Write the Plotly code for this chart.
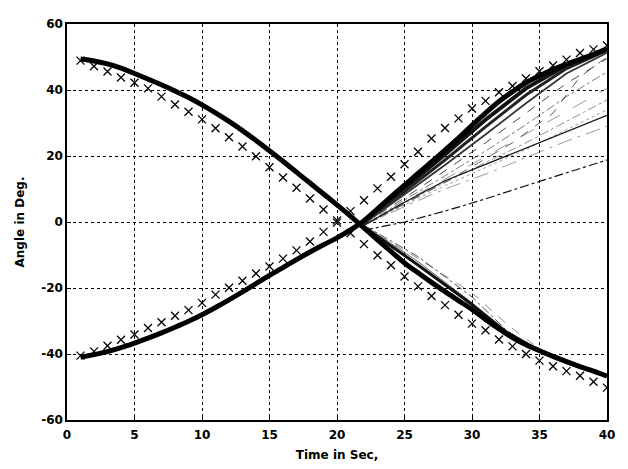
import plotly.graph_objects as go

# ---------------- data ----------------
t_markers = list(range(1, 41))
desc_markers = [48.9, 47.2, 45.6, 43.8, 42.2, 40.5, 38.0, 35.6, 33.4, 31.1,
                28.4, 25.7, 22.9, 19.9, 16.6, 13.5, 10.4, 7.1, 3.8, 0.5,
                -3.4, -6.7, -10.1, -13.1, -16.5, -19.5, -22.4, -25.2, -28.1, -30.8,
                -32.8, -35.6, -37.7, -40.0, -42.0, -43.7, -45.2, -46.6, -48.4, -50.2]
asc_markers = [-40.5, -39.2, -37.5, -35.7, -34.1, -32.1, -30.4, -28.4, -26.7, -24.5,
               -22.0, -19.9, -17.8, -15.6, -13.5, -11.1, -8.6, -5.9, -3.0, -0.2,
               3.3, 6.6, 10.2, 13.7, 17.5, 21.3, 25.3, 28.5, 31.4, 34.4,
               36.7, 39.3, 41.2, 43.5, 45.7, 47.4, 49.2, 51.2, 52.3, 53.5]

t_line = list(range(1, 41))
desc_line = [49.4, 48.8, 47.9, 46.6, 45.0, 43.3, 41.6, 39.7, 37.7, 35.5,
             33.1, 30.5, 27.7, 24.7, 21.6, 18.4, 15.1, 11.8, 8.5, 5.2,
             1.8, -1.8, -5.4, -8.9, -12.4, -15.4, -18.3, -21.1, -23.8, -26.5,
             -29.5, -32.4, -35.0, -37.2, -39.0, -40.7, -42.3, -43.8, -45.2, -46.7]
asc_line = [-41.0, -40.2, -39.3, -38.1, -36.7, -35.2, -33.6, -31.9, -30.1, -28.1,
            -25.9, -23.6, -21.2, -18.7, -16.2, -13.8, -11.4, -9.1, -6.9, -4.8,
            -2.4, 0.4, 4.0, 7.6, 11.2, 14.7, 18.2, 21.8, 25.4, 29.3,
            33.0, 36.5, 39.5, 42.2, 44.3, 46.2, 47.8, 49.3, 50.8, 52.5]

# diverging trajectories after the crossing (knots)
t_fan = [22, 25, 28, 31, 34, 37, 40]
asc_fan = {
    "A1": [0.0, 10.2, 20.5, 31.0, 40.5, 47.5, 52.5],
    "A2": [0.0, 9.2, 18.8, 28.8, 38.5, 46.5, 52.0],
    "A3": [-0.5, 8.3, 17.3, 26.5, 36.0, 45.0, 51.3],
    "A4": [-0.5, 7.3, 15.5, 24.0, 33.0, 42.0, 49.5],
    "A5": [-1.0, 6.7, 14.0, 21.5, 29.5, 38.0, 45.5],
    "A6": [-1.0, 6.2, 13.0, 19.8, 26.5, 33.5, 40.5],
    "A7": [-1.0, 5.7, 12.0, 18.0, 24.0, 30.5, 37.0],
    "A8": [-1.0, 5.2, 11.0, 16.5, 22.0, 28.0, 34.0],
    "A9": [-1.0, 4.7, 10.0, 14.5, 19.5, 24.5, 29.0],
    "L2": [-1.0, 6.0, 12.5, 17.5, 22.5, 27.5, 32.3],
    "L1": [-2.5, 0.0, 3.3, 7.0, 11.0, 14.8, 18.8],
}
asc_fan_style = {
    "A1": (4.0, "solid", "#111"), "A2": (3.0, "solid", "#222"),
    "A3": (1.8, "solid", "#333"), "A4": (0.9, "dash", "#333"),
    "A5": (0.7, "dashdot", "#444"), "A6": (0.6, "longdash", "#555"),
    "A7": (0.6, "dashdot", "#444"), "A8": (0.6, "dot", "#555"),
    "A9": (0.6, "longdashdot", "#555"), "L2": (1.3, "solid", "#111"),
    "L1": (1.2, "dashdot", "#111"),
}
t_conv = [22, 28, 33, 36, 38, 40]
asc_conv = [-1.0, 12.0, 24.0, 33.0, 44.0, 50.0]

t_dfan = [22, 26, 30, 32.6, 35]
desc_fan = {
    "D1": [-1.0, -10.5, -22.7, -33.0, -38.8],
    "D2": [-1.0, -12.0, -24.5, -34.5, -38.8],
    "D3": [-1.5, -11.0, -21.5, -31.0, -38.5],
    "D4": [-1.5, -13.0, -25.0, -33.5, -39.0],
}
desc_fan_style = {
    "D1": (0.8, "dashdot", "#222"), "D2": (0.8, "solid", "#333"),
    "D3": (0.6, "dash", "#444"), "D4": (3.0, "solid", "#111"),
}

x_ticks = [0, 5, 10, 15, 20, 25, 30, 35, 40]
y_ticks = [-60, -40, -20, 0, 20, 40, 60]

# ---------------- figure ----------------
fig = go.Figure()

for k, ys in asc_fan.items():
    w, d, c = asc_fan_style[k]
    fig.add_trace(go.Scatter(x=t_fan, y=ys, mode="lines",
                             line=dict(color=c, width=w, dash=d),
                             showlegend=False, hoverinfo="skip"))
fig.add_trace(go.Scatter(x=t_conv, y=asc_conv, mode="lines",
                         line=dict(color="#333", width=0.8, dash="dash"),
                         showlegend=False, hoverinfo="skip"))
for k, ys in desc_fan.items():
    w, d, c = desc_fan_style[k]
    fig.add_trace(go.Scatter(x=t_dfan, y=ys, mode="lines",
                             line=dict(color=c, width=w, dash=d),
                             showlegend=False, hoverinfo="skip"))

fig.add_trace(go.Scatter(x=t_line, y=desc_line, mode="lines",
                         line=dict(color="black", width=5, shape="spline"),
                         showlegend=False))
fig.add_trace(go.Scatter(x=t_line, y=asc_line, mode="lines",
                         line=dict(color="black", width=5, shape="spline"),
                         showlegend=False))

fig.add_trace(go.Scatter(x=t_markers, y=desc_markers, mode="markers",
                         marker=dict(symbol="x-thin-open", size=8, color="black",
                                     line=dict(color="black", width=1.3)),
                         showlegend=False))
fig.add_trace(go.Scatter(x=t_markers, y=asc_markers, mode="markers",
                         marker=dict(symbol="x-thin-open", size=8, color="black",
                                     line=dict(color="black", width=1.3)),
                         showlegend=False))

font_tick = dict(family="DejaVu Sans", size=12, color="black", weight="bold")

fig.update_xaxes(range=[0, 40], tickvals=x_ticks, ticktext=[str(v) for v in x_ticks],
                 showgrid=True, gridcolor="black", griddash="dot", gridwidth=1,
                 zeroline=False, showline=True, linecolor="black", linewidth=1.5,
                 mirror=True, ticks="inside", ticklen=4, tickcolor="black",
                 tickfont=font_tick, ticklabelstandoff=3,
                 title=dict(text="Time in Sec,", font=font_tick, standoff=9))
fig.update_yaxes(range=[-60, 60], tickvals=y_ticks, ticktext=[str(v) for v in y_ticks],
                 showgrid=True, gridcolor="black", griddash="dot", gridwidth=1,
                 zeroline=False, showline=True, linecolor="black", linewidth=1.5,
                 mirror=True, ticks="inside", ticklen=4, tickcolor="black",
                 tickfont=font_tick,
                 title=dict(text="Angle in Deg.", font=font_tick, standoff=14))

# page body has an 8px margin, so the figure is offset by 8px
fig.update_layout(width=620, height=461,
                  margin=dict(l=59, r=21, t=9, b=47),
                  paper_bgcolor="white", plot_bgcolor="white",
                  showlegend=False)

fig.write_html("out.html")
